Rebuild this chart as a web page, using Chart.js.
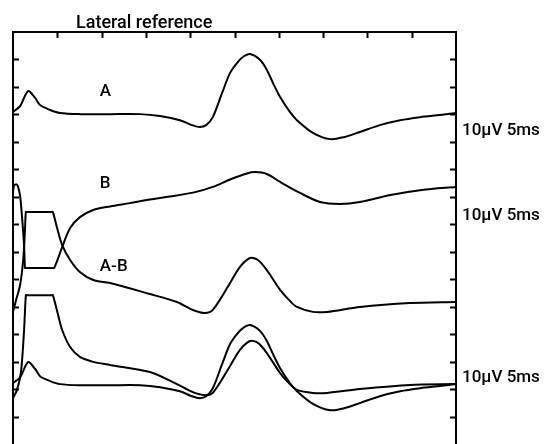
<!DOCTYPE html>
<html>
<head>
<meta charset="utf-8">
<script src="https://cdn.jsdelivr.net/npm/chart.js@4/dist/chart.umd.min.js"></script>
<style>
  html, body { margin: 0; padding: 0; background: #fff; }
  #wrap { width: 544px; height: 444px; position: relative; }
</style>
</head>
<body>
<div id="wrap"><canvas id="c" width="544" height="444"></canvas></div>
<script>
// ---- data (x: time grid units 0-10, y: vertical grid units 0-15) ----
const titleText = "Lateral reference";
const calibText = "10\u00b5V 5ms";
const xTicks = [1, 2, 3, 4, 5, 6, 7, 8, 9];
const yTicks = [1, 2, 3, 4, 5, 6, 7, 8, 9, 10, 11, 12, 13, 14];

// Trace A (top)
const aX = [0.00, 0.16, 0.34, 0.50, 0.61, 0.84, 1.06, 1.51, 2.19, 2.87, 3.32, 3.77, 4.04, 4.22, 4.36, 4.51, 4.72, 4.90, 5.06, 5.19, 5.35, 5.58, 5.73, 5.87, 6.03, 6.25, 6.41, 6.77, 7.16, 7.49, 7.83, 8.28, 8.74, 9.19, 9.64, 10.00];
const aY = [12.09, 12.30, 12.85, 12.60, 12.34, 12.16, 12.05, 12.01, 12.01, 12.01, 11.94, 11.79, 11.61, 11.54, 11.61, 11.90, 12.78, 13.51, 13.88, 14.09, 14.20, 13.98, 13.62, 13.14, 12.63, 12.09, 11.79, 11.33, 11.10, 11.18, 11.36, 11.61, 11.79, 11.90, 11.98, 12.05];

// Trace B
const bX = [0.00, 0.02, 0.07, 0.11, 0.16, 0.20, 0.25, 0.27, 0.29, 0.91, 0.93, 1.02, 1.11, 1.29, 1.51, 1.81, 2.19, 2.64, 3.09, 3.54, 4.11, 4.51, 4.90, 5.28, 5.46, 5.73, 6.03, 6.48, 6.93, 7.38, 7.83, 8.49, 9.23, 10.00];
const bY = [9.17, 9.39, 9.46, 9.39, 9.03, 8.34, 7.24, 6.41, 6.41, 6.41, 6.41, 6.77, 7.17, 7.86, 8.26, 8.52, 8.65, 8.77, 8.90, 9.01, 9.17, 9.36, 9.63, 9.85, 9.90, 9.83, 9.54, 9.14, 8.81, 8.74, 8.81, 9.06, 9.25, 9.36];

// Trace A-B (middle)
const abX = [0.00, 0.07, 0.16, 0.23, 0.27, 0.29, 0.31, 0.88, 0.90, 0.99, 1.11, 1.29, 1.51, 1.81, 2.19, 3.09, 3.70, 4.06, 4.33, 4.51, 4.90, 5.12, 5.35, 5.53, 5.73, 6.03, 6.25, 6.41, 6.77, 7.09, 7.83, 8.96, 10.00];
const abY = [4.81, 5.24, 5.79, 6.70, 7.79, 8.45, 8.45, 8.45, 8.45, 7.90, 7.24, 6.70, 6.26, 5.97, 5.86, 5.46, 5.17, 4.88, 4.77, 4.88, 5.86, 6.44, 6.77, 6.70, 6.33, 5.61, 5.21, 4.99, 4.81, 4.81, 4.99, 5.13, 5.17];

// Superimposed bottom pair: A-B and A
const abLowX = [0.00, 0.09, 0.18, 0.25, 0.29, 0.31, 0.88, 0.90, 0.99, 1.11, 1.29, 1.51, 1.81, 2.19, 3.09, 3.70, 4.06, 4.33, 4.51, 4.90, 5.12, 5.35, 5.53, 5.73, 6.03, 6.25, 6.41, 6.77, 7.09, 7.83, 8.96, 10.00];
const abLowY = [1.67, 1.97, 2.62, 4.15, 5.42, 5.42, 5.42, 5.42, 4.88, 4.15, 3.53, 3.17, 2.99, 2.88, 2.62, 2.18, 1.89, 1.78, 1.86, 2.84, 3.42, 3.75, 3.68, 3.31, 2.58, 2.18, 1.97, 1.86, 1.86, 2.00, 2.15, 2.18];

const aLowX = [0.00, 0.16, 0.34, 0.50, 0.61, 0.84, 1.06, 1.51, 2.19, 2.87, 3.32, 3.77, 4.04, 4.22, 4.36, 4.51, 4.72, 4.90, 5.06, 5.19, 5.35, 5.58, 5.73, 5.87, 6.03, 6.25, 6.41, 6.77, 7.16, 7.49, 7.83, 8.28, 8.74, 9.19, 9.64, 10.00];
const aLowY = [2.22, 2.43, 2.98, 2.73, 2.47, 2.29, 2.18, 2.14, 2.14, 2.14, 2.07, 1.92, 1.74, 1.67, 1.74, 2.03, 2.91, 3.64, 4.01, 4.22, 4.33, 4.11, 3.75, 3.27, 2.76, 2.22, 1.92, 1.46, 1.23, 1.31, 1.49, 1.74, 1.92, 2.03, 2.11, 2.18];

// Trace labels (text, x, y in grid units)
const traceLabels = [
  { text: "A", x: 1.96, y: 12.67 },
  { text: "B", x: 1.96, y: 9.32 },
  { text: "A-B", x: 1.96, y: 6.30 }
];
// Calibration labels at right edge (y in grid units)
const calibY = [11.25, 8.15, 2.26];

function pts(xs, ys) { return xs.map((x, i) => ({ x: x, y: ys[i] })); }

const lineStyle = {
  borderColor: '#000',
  borderWidth: 2,
  pointRadius: 0,
  fill: false,
  tension: 0.3,
  clip: 6
};

const frameAndText = {
  id: 'frameAndText',
  afterDatasetsDraw(chart) {
    const ctx = chart.ctx;
    const ca = chart.chartArea;
    const xs = chart.scales.x, ys = chart.scales.y;
    ctx.save();
    ctx.strokeStyle = '#000';
    ctx.lineWidth = 2;
    ctx.lineCap = 'butt';
    ctx.beginPath();
    ctx.moveTo(ca.left, ca.bottom);
    ctx.lineTo(ca.left, ca.top);
    ctx.lineTo(ca.right, ca.top);
    ctx.lineTo(ca.right, ca.bottom);
    ctx.stroke();
    const tl = 6;
    ctx.beginPath();
    xTicks.forEach(v => {
      const px = Math.round(xs.getPixelForValue(v)) + 0.5;
      ctx.moveTo(px, ca.top);
      ctx.lineTo(px, ca.top + tl);
    });
    yTicks.forEach(v => {
      const py = Math.round(ys.getPixelForValue(v)) + 0.5;
      ctx.moveTo(ca.left, py);
      ctx.lineTo(ca.left + tl, py);
      ctx.moveTo(ca.right, py);
      ctx.lineTo(ca.right - tl, py);
    });
    ctx.stroke();
    ctx.fillStyle = '#000';
    ctx.textBaseline = 'alphabetic';
    ctx.textAlign = 'left';
    ctx.font = '500 18px Roboto';
    ctx.fillText(titleText, 76, ca.top - 4);
    ctx.font = '500 17px Roboto';
    traceLabels.forEach(l => {
      ctx.fillText(l.text, xs.getPixelForValue(l.x), ys.getPixelForValue(l.y));
    });
    calibY.forEach(v => {
      ctx.fillText(calibText, ca.right + 6, ys.getPixelForValue(v));
    });
    ctx.restore();
  }
};

new Chart(document.getElementById('c'), {
  type: 'line',
  data: {
    datasets: [
      Object.assign({ label: 'A', data: pts(aX, aY) }, lineStyle),
      Object.assign({ label: 'B', data: pts(bX, bY) }, lineStyle),
      Object.assign({ label: 'A-B', data: pts(abX, abY) }, lineStyle),
      Object.assign({ label: 'A-B (superimposed)', data: pts(abLowX, abLowY) }, lineStyle),
      Object.assign({ label: 'A (superimposed)', data: pts(aLowX, aLowY) }, lineStyle)
    ]
  },
  options: {
    responsive: false,
    animation: false,
    layout: { padding: { left: 13, top: 32, right: 88, bottom: 0 } },
    scales: {
      x: { type: 'linear', min: 0, max: 10, display: false },
      y: { type: 'linear', min: 0, max: 15, display: false }
    },
    plugins: {
      legend: { display: false },
      tooltip: { enabled: false },
      title: { display: false }
    }
  },
  plugins: [frameAndText]
});
</script>
</body>
</html>
